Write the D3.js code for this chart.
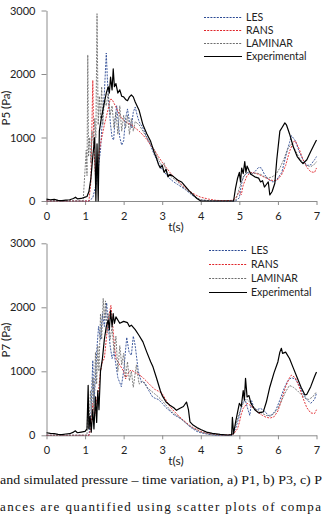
<!DOCTYPE html>
<html>
<head>
<meta charset="utf-8">
<script src="https://cdn.jsdelivr.net/npm/d3@7"></script>
<style>
  body { margin: 0; background: #fff; }
  svg { display: block; }
  .tick text { font-family: Lato, "Liberation Sans", sans-serif; fill: #222; }
  .axis path, .axis line { stroke: #8c8c8c; }
</style>
</head>
<body>
<div id="chart"></div>
<script>
// series names and legend labels
var seriesNames = ["LES", "RANS", "LAMINAR", "Experimental"];
var xTicks = [0, 1, 2, 3, 4, 5, 6, 7];
var yTicks = [0, 1000, 2000, 3000];
var captionLines = [
  "and simulated pressure \u2013 time variation, a) P1, b) P3, c) P",
  "ances are quantified using scatter plots of compa"
];

// P5 pressure (Pa) vs t(s)
var p5Les = [[0,0],[1.1,0],[1.2,50],[1.3,300],[1.4,800],[1.45,1300],[1.5,1700],[1.55,2330],[1.58,1900],[1.62,1500],[1.66,1200],[1.7,1000],[1.74,960],[1.78,1300],[1.82,1500],[1.86,1250],[1.9,1000],[1.95,880],[2.0,950],[2.05,1300],[2.1,1450],[2.15,1250],[2.2,1150],[2.25,1400],[2.3,1480],[2.35,1350],[2.4,1250],[2.5,1150],[2.6,1000],[2.7,870],[2.8,720],[2.9,600],[3.0,500],[3.1,420],[3.2,350],[3.3,300],[3.4,260],[3.5,220],[3.6,180],[3.7,130],[3.8,80],[3.9,40],[4.0,15],[4.3,0],[4.9,0],[5.0,50],[5.05,250],[5.1,380],[5.2,450],[5.3,420],[5.4,460],[5.5,530],[5.57,520],[5.65,420],[5.75,340],[5.87,300],[5.95,320],[6.1,450],[6.2,700],[6.3,920],[6.35,1030],[6.45,950],[6.55,780],[6.65,650],[6.75,560],[6.85,570],[6.95,650],[7.0,700]];
var p5Rans = [[0,0],[1.1,0],[1.15,300],[1.2,1900],[1.23,800],[1.27,400],[1.3,500],[1.35,700],[1.4,900],[1.5,1200],[1.6,1450],[1.65,1600],[1.7,1600],[1.8,1480],[1.9,1350],[2.0,1270],[2.1,1230],[2.2,1200],[2.3,1150],[2.4,1100],[2.5,1040],[2.6,970],[2.7,880],[2.8,800],[2.9,700],[3.0,610],[3.1,530],[3.2,450],[3.3,380],[3.4,320],[3.5,260],[3.6,210],[3.7,160],[3.8,120],[3.9,85],[4.0,60],[4.2,30],[4.4,10],[4.6,5],[4.8,10],[4.9,40],[5.0,150],[5.05,100],[5.1,250],[5.2,400],[5.3,450],[5.4,440],[5.5,420],[5.6,390],[5.7,360],[5.8,330],[5.9,320],[6.0,340],[6.1,420],[6.2,560],[6.3,780],[6.4,930],[6.45,950],[6.55,820],[6.65,650],[6.75,530],[6.85,460],[6.95,450],[7.0,520]];
var p5Laminar = [[0,0],[0.95,0],[1.0,500],[1.03,800],[1.05,400],[1.07,2300],[1.09,700],[1.12,1000],[1.15,600],[1.18,1100],[1.22,900],[1.25,1300],[1.28,1000],[1.31,2950],[1.34,1200],[1.37,1650],[1.4,1300],[1.43,1800],[1.46,1200],[1.5,1600],[1.55,1500],[1.6,1700],[1.65,1350],[1.7,1500],[1.75,1150],[1.8,1400],[1.85,1050],[1.9,1500],[1.95,1100],[2.0,1350],[2.05,1150],[2.1,1350],[2.15,1050],[2.2,1300],[2.25,1100],[2.3,1250],[2.4,1200],[2.5,1100],[2.6,1000],[2.7,900],[2.8,800],[2.9,650],[3.0,550],[3.05,600],[3.1,450],[3.2,400],[3.3,350],[3.4,300],[3.5,240],[3.6,190],[3.7,140],[3.8,90],[3.9,50],[4.0,20],[4.3,0],[4.9,0],[4.95,100],[5.05,300],[5.15,420],[5.25,460],[5.35,430],[5.45,440],[5.55,420],[5.65,380],[5.75,360],[5.85,380],[5.95,420],[6.05,520],[6.15,650],[6.25,820],[6.35,900],[6.45,800],[6.55,680],[6.65,600],[6.75,560],[6.85,540],[6.95,580],[7.0,620]];
var p5Exp = [[0,30],[0.1,20],[0.2,25],[0.3,10],[0.4,5],[0.5,15],[0.6,20],[0.7,40],[0.75,60],[0.8,35],[0.9,40],[1.0,60],[1.05,70],[1.1,150],[1.15,350],[1.2,700],[1.25,1000],[1.28,0],[1.31,900],[1.34,0],[1.37,1100],[1.42,1300],[1.5,1550],[1.55,1700],[1.6,1800],[1.63,1700],[1.66,1950],[1.7,1750],[1.73,2080],[1.76,1800],[1.8,1850],[1.85,1700],[1.9,1750],[1.95,1650],[2.0,1640],[2.05,1600],[2.1,1580],[2.15,1640],[2.2,1670],[2.25,1640],[2.3,1560],[2.4,1430],[2.5,1200],[2.6,1060],[2.7,940],[2.8,750],[2.85,680],[2.9,580],[2.95,520],[3.0,560],[3.05,450],[3.1,500],[3.15,380],[3.2,420],[3.3,380],[3.4,330],[3.5,300],[3.6,230],[3.7,160],[3.8,100],[3.9,40],[3.95,20],[4.0,0],[4.85,0],[4.9,200],[4.95,350],[5.0,450],[5.03,300],[5.06,520],[5.1,430],[5.14,620],[5.17,450],[5.2,550],[5.25,480],[5.3,420],[5.4,380],[5.5,360],[5.55,300],[5.6,320],[5.65,220],[5.7,260],[5.75,300],[5.79,95],[5.85,150],[5.92,280],[5.97,650],[6.05,1100],[6.1,1150],[6.18,1230],[6.22,1200],[6.3,1060],[6.4,850],[6.5,700],[6.6,620],[6.65,590],[6.75,650],[6.85,780],[6.95,900],[7.0,960]];

// P7 pressure (Pa) vs t(s)
var p7Les = [[0,0],[1.1,0],[1.15,300],[1.2,1170],[1.23,500],[1.27,900],[1.3,1300],[1.35,1700],[1.4,1500],[1.45,1900],[1.5,1700],[1.56,2070],[1.6,1700],[1.65,1400],[1.7,1200],[1.75,1300],[1.8,1100],[1.85,900],[1.94,760],[2.0,1000],[2.08,1530],[2.14,1300],[2.2,1250],[2.25,1550],[2.3,1400],[2.38,1000],[2.46,830],[2.55,820],[2.65,700],[2.75,600],[2.81,580],[2.9,560],[3.0,500],[3.1,430],[3.2,380],[3.3,320],[3.4,290],[3.5,250],[3.6,200],[3.7,140],[3.8,100],[3.9,60],[4.0,40],[4.2,15],[4.4,0],[4.8,0],[4.9,100],[5.0,300],[5.05,450],[5.1,520],[5.15,560],[5.2,450],[5.27,310],[5.32,540],[5.38,420],[5.45,400],[5.55,420],[5.65,380],[5.75,310],[5.85,320],[5.95,400],[6.05,550],[6.15,720],[6.25,850],[6.35,900],[6.45,880],[6.55,780],[6.65,650],[6.75,560],[6.85,500],[6.95,560],[7.0,660]];
var p7Rans = [[0,0],[1.1,0],[1.15,100],[1.2,500],[1.25,300],[1.3,550],[1.35,700],[1.4,1000],[1.45,1150],[1.5,1200],[1.55,1500],[1.6,1800],[1.67,2030],[1.72,1700],[1.76,1400],[1.8,1200],[1.85,1150],[1.9,1100],[1.95,1050],[2.0,1000],[2.05,880],[2.1,950],[2.15,1000],[2.2,1020],[2.3,980],[2.4,950],[2.5,900],[2.6,840],[2.7,780],[2.8,720],[2.9,690],[3.0,650],[3.1,550],[3.2,450],[3.3,380],[3.4,320],[3.5,260],[3.6,210],[3.7,160],[3.8,120],[3.9,90],[4.0,60],[4.1,40],[4.3,20],[4.5,5],[4.7,5],[4.85,20],[4.95,100],[5.0,200],[5.05,330],[5.1,420],[5.2,500],[5.3,460],[5.4,400],[5.5,350],[5.6,310],[5.7,280],[5.8,270],[5.9,290],[6.0,380],[6.1,560],[6.2,760],[6.3,900],[6.35,940],[6.45,900],[6.55,760],[6.65,580],[6.75,430],[6.85,350],[6.95,340],[7.0,400]];
var p7Laminar = [[0,0],[1.05,0],[1.07,500],[1.1,100],[1.14,700],[1.17,300],[1.2,900],[1.23,400],[1.27,1300],[1.3,800],[1.33,1400],[1.36,1000],[1.4,1900],[1.43,1500],[1.47,2140],[1.5,1800],[1.53,2100],[1.57,1600],[1.6,1900],[1.65,1500],[1.7,1700],[1.75,1300],[1.8,1550],[1.85,1000],[1.9,1400],[1.95,1100],[2.0,1280],[2.05,900],[2.1,1150],[2.15,850],[2.2,1000],[2.25,750],[2.33,1100],[2.4,800],[2.5,850],[2.6,750],[2.7,700],[2.8,650],[2.9,600],[3.0,540],[3.1,470],[3.2,400],[3.3,340],[3.4,300],[3.5,250],[3.6,200],[3.7,150],[3.8,110],[3.9,80],[4.0,50],[4.2,20],[4.4,5],[4.8,0],[4.9,150],[5.0,350],[5.1,500],[5.2,560],[5.3,500],[5.4,420],[5.5,380],[5.6,340],[5.7,310],[5.8,300],[5.9,340],[6.0,420],[6.1,550],[6.2,680],[6.3,780],[6.4,750],[6.5,700],[6.6,640],[6.7,580],[6.8,560],[6.9,600],[7.0,680]];
var p7Exp = [[0,40],[0.1,30],[0.2,25],[0.3,15],[0.4,10],[0.5,20],[0.6,25],[0.7,50],[0.75,70],[0.8,40],[0.9,50],[1.0,60],[1.05,100],[1.08,780],[1.1,100],[1.13,300],[1.16,50],[1.2,400],[1.23,100],[1.27,600],[1.3,200],[1.33,700],[1.36,400],[1.4,1000],[1.45,1200],[1.5,1500],[1.55,1700],[1.6,1800],[1.63,1650],[1.66,1950],[1.7,1700],[1.73,1900],[1.76,1750],[1.8,1850],[1.9,1750],[2.0,1780],[2.1,1760],[2.15,1700],[2.2,1720],[2.3,1650],[2.4,1560],[2.5,1460],[2.6,1300],[2.7,1150],[2.76,1070],[2.85,900],[2.95,700],[3.0,620],[3.1,520],[3.2,470],[3.3,430],[3.37,390],[3.45,420],[3.55,450],[3.63,520],[3.68,400],[3.72,210],[3.8,160],[3.9,120],[4.0,90],[4.15,50],[4.3,30],[4.5,15],[4.7,5],[4.8,10],[4.82,280],[4.85,20],[4.9,200],[4.95,350],[5.0,500],[5.05,450],[5.1,700],[5.13,550],[5.16,890],[5.2,600],[5.25,620],[5.3,500],[5.4,400],[5.5,350],[5.62,365],[5.7,520],[5.79,755],[5.9,980],[6.0,1150],[6.05,1300],[6.09,1360],[6.12,1280],[6.2,1300],[6.3,1200],[6.4,1050],[6.5,900],[6.6,750],[6.7,630],[6.75,640],[6.85,760],[6.95,920],[7.0,990]];

var W = 323, H = 515;
var colors = { LES: "#2b4a94", RANS: "#e0262b", LAMINAR: "#6e6e6e", Experimental: "#000" };

var svg = d3.select("#chart").append("svg")
  .attr("width", W)
  .attr("height", H);

// one panel per pressure probe
function drawPanel(cfg) {
  var x = d3.scaleLinear().domain([0, 7]).range([46.5, 316.5]);
  var y = d3.scaleLinear().domain([0, 3000]).range([cfg.bottom, cfg.top]);

  var g = svg.append("g");

  g.append("g")
    .attr("class", "axis")
    .attr("transform", "translate(46.5,0)")
    .call(d3.axisLeft(y).tickValues(yTicks).tickFormat(d3.format("d"))
      .tickSize(5).tickPadding(6).tickSizeOuter(0))
    .selectAll("text").style("font-size", "11px");

  g.append("g")
    .attr("class", "axis")
    .attr("transform", `translate(0,${cfg.bottom})`)
    .call(d3.axisBottom(x).tickValues(xTicks).tickFormat(d3.format("d"))
      .tickSize(4).tickPadding(7).tickSizeOuter(0))
    .selectAll("text").style("font-size", "11px");

  var line = d3.line()
    .x(d => x(d[0]))
    .y(d => y(d[1]));

  cfg.series.forEach(function (s, i) {
    var name = seriesNames[i];
    g.append("path")
      .datum(s)
      .attr("fill", "none")
      .attr("stroke", colors[name])
      .attr("stroke-width", name == "Experimental" ? 1.2 : 0.9)
      .attr("stroke-dasharray", name == "Experimental" ? null : "2,1.2")
      .attr("stroke-linejoin", "round")
      .attr("d", line);
  });

  // axis titles
  g.append("text")
    .attr("x", 176)
    .attr("y", cfg.bottom + 30)
    .attr("text-anchor", "middle")
    .style("font-family", "Lato, sans-serif")
    .style("font-size", "12px")
    .attr("fill", "#222")
    .text("t(s)");

  g.append("text")
    .attr("transform", `translate(10,${cfg.labelY}) rotate(-90)`)
    .attr("text-anchor", "middle")
    .style("font-family", "Lato, sans-serif")
    .style("font-size", "11.5px")
    .attr("fill", "#222")
    .text(cfg.label);

  // legend
  var leg = g.append("g");
  seriesNames.forEach(function (name, i) {
    var ly = cfg.legY + i * cfg.legStep;
    leg.append("line")
      .attr("x1", cfg.legX).attr("x2", cfg.legX + 38)
      .attr("y1", ly).attr("y2", ly)
      .attr("stroke", colors[name])
      .attr("stroke-width", 1)
      .attr("stroke-dasharray", name == "Experimental" ? null : "2,1.2");
    leg.append("text")
      .attr("x", cfg.legX + 42)
      .attr("y", ly + 3.5)
      .style("font-family", "Lato, sans-serif")
      .style("font-size", "10.5px")
      .attr("fill", "#222")
      .text(name);
  });
}

drawPanel({ top: 10.5, bottom: 201, label: "P5 (Pa)", labelY: 108,
  series: [p5Les, p5Rans, p5Laminar, p5Exp], legX: 204, legY: 17.5, legStep: 13 });
drawPanel({ top: 243.3, bottom: 435.3, label: "P7 (Pa)", labelY: 340,
  series: [p7Les, p7Rans, p7Laminar, p7Exp], legX: 209, legY: 250.5, legStep: 14 });

// caption text from the page under the figure
svg.append("text")
  .attr("x", 0).attr("y", 484)
  .attr("textLength", 322).attr("lengthAdjust", "spacingAndGlyphs")
  .style("font-family", "'Liberation Serif', serif")
  .style("font-size", "13.4px")
  .attr("fill", "#111")
  .text(captionLines[0]);

svg.append("text")
  .attr("x", 0).attr("y", 511)
  .attr("textLength", 321).attr("lengthAdjust", "spacing")
  .style("font-family", "'Liberation Serif', serif")
  .style("font-size", "13px")
  .attr("fill", "#111")
  .text(captionLines[1]);
</script>
</body>
</html>
